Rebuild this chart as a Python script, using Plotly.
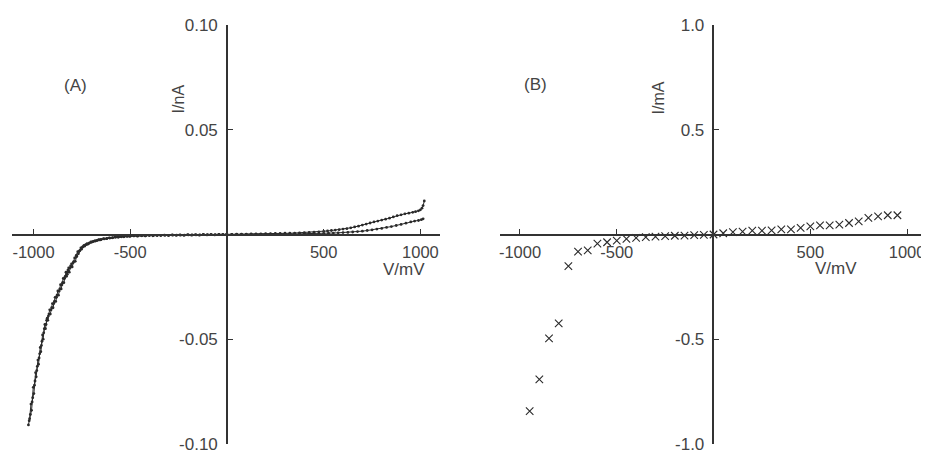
import plotly.graph_objects as go

# ---------------- Panel A: I/nA vs V/mV (two sweeps, dense dots) ----------------
va_fwd = [-1022, -1016, -1010, -1004, -998, -992, -986, -980, -974, -968, -962, -956,
          -950, -944, -938, -932, -926, -920, -913, -906, -899, -892, -885, -878,
          -871, -864, -857, -850, -843, -836, -829, -822, -815, -808, -800, -792,
          -784, -776, -768, -760, -752, -744, -736, -728, -720, -710, -700, -690,
          -680, -670, -660, -650, -635, -620, -605, -590, -575, -560, -545, -530,
          -515, -500, -480, -460, -440, -420, -400, -380, -360, -340, -320, -300,
          -280, -260, -240, -220, -200, -180, -160, -140, -120, -100, -80, -60,
          -40, -20, 0, 25, 50, 75, 100, 125, 150, 175, 200, 225, 250, 275, 300,
          325, 350, 375, 400, 425, 450, 475, 500, 520, 540, 560, 580, 600, 620,
          640, 660, 680, 700, 720, 740, 760, 780, 800, 820, 840, 860, 880, 900,
          920, 940, 960, 975, 990, 1000, 1008, 1014, 1020]
ia_fwd = [-0.089, -0.086, -0.084, -0.078, -0.076, -0.070, -0.068, -0.063, -0.062, -0.057,
          -0.056, -0.051, -0.050, -0.045, -0.045, -0.041, -0.041, -0.038, -0.038, -0.035,
          -0.035, -0.032, -0.032, -0.029, -0.029, -0.026, -0.026, -0.023, -0.023, -0.020,
          -0.020, -0.017, -0.018, -0.015, -0.0155, -0.013, -0.0128, -0.0105, -0.0092, -0.0076,
          -0.0070, -0.0058, -0.0056, -0.0048, -0.0047, -0.0040, -0.0037, -0.0033, -0.0031, -0.0028,
          -0.0026, -0.0024, -0.0021, -0.0019, -0.0017, -0.0015, -0.0013, -0.0012, -0.0011, -0.0010,
          -0.0009, -0.0008, -0.0007, -0.0007, -0.0006, -0.0006, -0.0005, -0.0005, -0.0005, -0.0004,
          -0.0004, -0.0004, -0.0003, -0.0003, -0.0003, -0.0003, -0.0002, -0.0002, -0.0002, -0.0002,
          -0.0001, -0.0001, -0.0001, -0.0001, 0.0000, 0.0000, 0.0001, 0.0001, 0.0002, 0.0002,
          0.0002, 0.0003, 0.0003, 0.0003, 0.0004, 0.0004, 0.0005, 0.0005, 0.0006, 0.0006,
          0.0007, 0.0008, 0.0009, 0.0010, 0.0011, 0.0013, 0.0015, 0.0017, 0.0019, 0.0021,
          0.0023, 0.0026, 0.0028, 0.0032, 0.0036, 0.0040, 0.0045, 0.0050, 0.0055, 0.0060,
          0.0064, 0.0069, 0.0073, 0.0078, 0.0084, 0.0090, 0.0094, 0.0099, 0.0102, 0.0106,
          0.0109, 0.0113, 0.0118, 0.0126, 0.0138, 0.0160]

va_rev = [-1026, -1020, -1013, -1007, -1001, -995, -989, -983, -977, -971, -965, -959,
          -953, -947, -941, -935, -929, -923, -916, -909, -902, -895, -888, -881,
          -874, -867, -860, -853, -846, -839, -832, -825, -818, -811, -803, -795,
          -787, -779, -771, -763, -755, -747, -739, -731, -723, -713, -703, -693,
          -683, -673, -663, -653, -638, -623, -608, -593, -578, -563, -548, -533,
          -518, -503, -483, -463, -443, -423, -403, -383, -363, -343, -323, -303,
          -283, -263, -243, -223, -203, -183, -163, -143, -123, -103, -83, -63,
          -43, -23, -3, 25, 50, 75, 100, 125, 150, 175, 200, 225, 250, 275, 300,
          325, 350, 375, 400, 425, 450, 475, 500, 525, 550, 575, 600, 625, 650,
          675, 700, 725, 750, 775, 800, 825, 850, 875, 900, 925, 950, 970, 990,
          1005, 1014]
ia_rev = [-0.091, -0.088, -0.081, -0.080, -0.073, -0.072, -0.066, -0.065, -0.060, -0.059,
          -0.054, -0.053, -0.048, -0.047, -0.043, -0.043, -0.040, -0.039, -0.036, -0.036,
          -0.033, -0.033, -0.030, -0.030, -0.027, -0.027, -0.024, -0.024, -0.021, -0.021,
          -0.018, -0.019, -0.016, -0.016, -0.014, -0.0135, -0.0112, -0.0100, -0.0082, -0.0079,
          -0.0064, -0.0061, -0.0052, -0.0050, -0.0044, -0.0042, -0.0035, -0.0034, -0.0030, -0.0029,
          -0.0025, -0.0025, -0.0020, -0.0020, -0.0016, -0.0016, -0.0012, -0.0013, -0.0010, -0.0011,
          -0.0008, -0.0009, -0.0006, -0.0008, -0.0005, -0.0007, -0.0004, -0.0006, -0.0004, -0.0005,
          -0.0003, -0.0005, -0.0002, -0.0004, -0.0002, -0.0004, -0.0001, -0.0003, -0.0001, -0.0003,
          0.0000, -0.0002, 0.0000, -0.0002, 0.0000, -0.0001, 0.0000, 0.0000, 0.0000, 0.0001,
          0.0000, 0.0001, 0.0001, 0.0001, 0.0001, 0.0002, 0.0002, 0.0002, 0.0002, 0.0003,
          0.0003, 0.0003, 0.0004, 0.0004, 0.0004, 0.0005, 0.0005, 0.0006, 0.0007, 0.0008,
          0.0009, 0.0010, 0.0012, 0.0014, 0.0016, 0.0019, 0.0022, 0.0026, 0.0029, 0.0034,
          0.0038, 0.0043, 0.0048, 0.0054, 0.0060, 0.0064, 0.0067, 0.0071, 0.0075, 0.0080,
          0.0090]

# ---------------- Panel B: I/mA vs V/mV (crosses) ----------------
vb = [-950, -900, -850, -800, -750, -700, -650, -600, -550, -500, -450, -400, -350,
      -300, -250, -200, -150, -100, -50, 0, 50, 100, 150, 200, 250, 300, 350, 400,
      450, 500, 550, 600, 650, 700, 750, 800, 850, 900, 950]
ib = [-0.844, -0.692, -0.496, -0.425, -0.151, -0.082, -0.076, -0.044, -0.037, -0.029,
      -0.021, -0.016, -0.013, -0.010, -0.008, -0.006, -0.005, -0.003, -0.002, 0.000,
      0.006, 0.011, 0.014, 0.018, 0.018, 0.020, 0.024, 0.024, 0.032, 0.039,
      0.044, 0.044, 0.047, 0.055, 0.063, 0.079, 0.087, 0.092, 0.092]

xa_tickvals = [-1000, -500, 500, 1000]
xa_ticktext = ["-1000", "-500", "500", "1000"]
ya_tickvals = [0.10, 0.05, -0.05, -0.10]
ya_ticktext = ["0.10", "0.05", "-0.05", "-0.10"]
yb_tickvals = [1.0, 0.5, -0.5, -1.0]
yb_ticktext = ["1.0", "0.5", "-0.5", "-1.0"]

INK = "#2a2a2a"
TXT = "#444444"
FONT = "Liberation Sans, Arial, sans-serif"

fig = go.Figure()
for vx, iy in ((va_fwd, ia_fwd), (va_rev, ia_rev)):
    fig.add_trace(go.Scatter(x=vx, y=iy, mode="lines+markers", xaxis="x", yaxis="y",
                             line=dict(color=INK, width=1),
                             marker=dict(color=INK, size=2.8),
                             showlegend=False, hoverinfo="skip"))
fig.add_trace(go.Scatter(x=vb, y=ib, mode="markers", xaxis="x2", yaxis="y2",
                         marker=dict(symbol="x-thin", size=7.5, color=INK,
                                     line=dict(color=INK, width=1.1)),
                         showlegend=False, hoverinfo="skip"))

common_axis = dict(showline=True, linecolor="#333333", linewidth=1.5, ticks="inside",
                   ticklen=5, tickwidth=1.3, tickcolor="#333333", showgrid=False,
                   zeroline=False, tickfont=dict(family=FONT, size=17, color=TXT),
                   ticklabeloverflow="allow", fixedrange=True)
xfont = dict(family=FONT, size=16.5, color=TXT)

# The page body has an 8px default margin: the figure is sized/offset to compensate.
fig.update_layout(
    width=921, height=447,
    margin=dict(l=4, r=1, t=17, b=8),
    paper_bgcolor="white", plot_bgcolor="white",
    font=dict(family=FONT, size=17, color=TXT),
    xaxis=dict(common_axis, domain=[0, 0.4672], range=[-1111, 1101], anchor="free",
               position=0.5, tickvals=xa_tickvals, ticktext=xa_ticktext,
               ticklabelstandoff=3, tickfont=xfont),
    yaxis=dict(common_axis, domain=[0, 1], range=[-0.1001, 0.1001], anchor="free",
               position=0.2347, tickvals=ya_tickvals, ticktext=ya_ticktext,
               ticklabelstandoff=5),
    xaxis2=dict(common_axis, domain=[0.5328, 1], range=[-1103, 1108], anchor="free",
                position=0.5, tickvals=xa_tickvals, ticktext=xa_ticktext,
                ticklabelstandoff=3, tickfont=xfont),
    yaxis2=dict(common_axis, domain=[0, 1], range=[-1.001, 1.001], anchor="free",
                position=0.7658, tickvals=yb_tickvals, ticktext=yb_ticktext,
                ticklabelstandoff=5),
    annotations=[
        dict(text="(A)", x=0.0546, y=0.884, xref="paper", yref="paper",
             showarrow=False, font=dict(size=17, color=TXT)),
        dict(text="(B)", x=0.571, y=0.886, xref="paper", yref="paper",
             showarrow=False, font=dict(size=17, color=TXT)),
        dict(text="I/nA", x=0.1703, y=0.863, xref="paper", yref="paper",
             textangle=-90, showarrow=False, font=dict(size=16, color=TXT)),
        dict(text="I/mA", x=0.7183, y=0.870, xref="paper", yref="paper",
             textangle=-90, showarrow=False, font=dict(size=16, color=TXT)),
        dict(text="V/mV", x=0.428, y=0.417, xref="paper", yref="paper",
             showarrow=False, font=dict(size=17, color=TXT)),
        dict(text="V/mV", x=0.9247, y=0.419, xref="paper", yref="paper",
             showarrow=False, font=dict(size=17, color=TXT)),
    ],
)

fig.write_html("out.html")
